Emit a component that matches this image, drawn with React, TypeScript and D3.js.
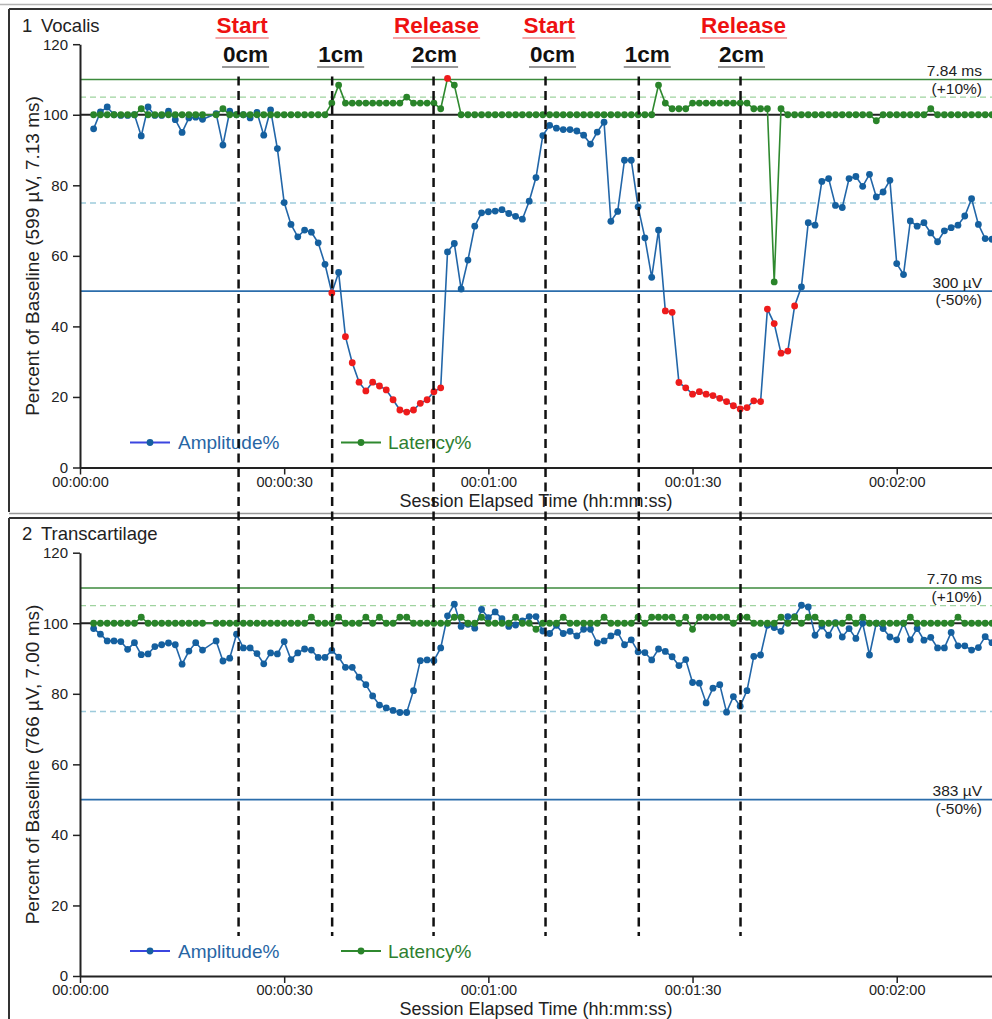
import React, { useEffect, useRef } from 'react';
import * as d3 from 'd3';

const W = 992;
const H = 1019;
const FONT = 'Liberation Sans, Arial, Helvetica, sans-serif';

// one reading per second, the first one at 00:00:02 (t=19 s is a dropped sample)
const firstSecond = 2;

const vocalisAmplitude = [
  96.0, 100.8, 102.2, 100.0, 99.8, 99.8, 100.0, 94.0, 102.2, 99.8,
  99.8, 101.0, 98.6, 95.0, 99.1, 99.3, 98.7, null, 100.3, 91.4,
  101.0, 100.0, 100.0, 99.1, 100.7, 94.2, 101.4, 90.4, 75.1, 68.9,
  65.4, 67.3, 66.7, 63.7, 57.6, 49.5, 55.3, 37.1, 29.7, 24.2,
  21.7, 24.2, 23.1, 22.0, 19.2, 16.3, 15.7, 16.3, 18.2, 19.2,
  21.5, 22.6, 61.1, 63.5, 50.6, 58.8, 68.4, 72.2, 72.5, 72.7,
  73.1, 72.0, 71.2, 70.4, 75.5, 82.2, 94.1, 97.0, 96.2, 95.8,
  95.8, 95.4, 94.2, 91.7, 95.1, 97.9, 69.8, 72.6, 87.1, 87.1,
  73.9, 65.1, 53.9, 67.3, 44.4, 44.0, 24.1, 22.6, 20.8, 21.5,
  20.8, 20.4, 19.6, 18.7, 17.5, 16.6, 17.0, 18.9, 18.7, 44.9,
  40.8, 32.4, 33.0, 45.8, 51.2, 69.4, 68.7, 81.1, 81.9, 74.3,
  73.7, 81.9, 82.5, 79.7, 83.1, 76.7, 78.1, 81.4, 57.8, 54.7,
  69.9, 68.4, 69.4, 66.5, 64.0, 67.1, 68.0, 68.7, 71.3, 76.2,
  68.9, 64.9, 64.7,
];

const vocalisLatency = [
  100, 100, 100, 100, 100, 100, 100, 101.7, 100, 100,
  100, 100, 100, 100, 100, 100, 100, null, 100, 101.7,
  100, 100, 100, 100, 100, 100, 100, 100, 100, 100,
  100, 100, 100, 100, 100, 103.3, 108.4, 103.3, 103.3, 103.3,
  103.3, 103.3, 103.3, 103.3, 103.3, 103.3, 105.0, 103.3, 103.3, 103.3,
  103.3, 101.7, 110.3, 108.4, 100, 100, 100, 100, 100, 100,
  100, 100, 100, 100, 100, 100, 100, 100, 100, 100,
  100, 100, 100, 100, 100, 100, 100, 100, 100, 100,
  100, 100, 100, 108.4, 103.3, 101.7, 101.7, 101.7, 103.3, 103.3,
  103.3, 103.3, 103.3, 103.3, 103.3, 103.3, 103.3, 101.7, 101.7, 101.7,
  52.6, 101.7, 100, 100, 100, 100, 100, 100, 100, 100,
  100, 100, 100, 100, 100, 98.3, 100, 100, 100, 100,
  100, 100, 100, 101.7, 100, 100, 100, 100, 100, 100,
  100, 100, 100,
];

const transAmplitude = [
  98.5, 96.9, 95.0, 95.0, 94.8, 92.6, 94.5, 91.1, 91.3, 93.4,
  93.9, 94.4, 93.9, 88.4, 92.1, 94.5, 92.4, null, 95.0, 89.3,
  90.1, 96.9, 93.0, 93.0, 91.4, 88.5, 91.6, 91.3, 94.8, 89.7,
  91.6, 92.7, 92.4, 90.3, 90.3, 92.3, 90.4, 87.5, 87.5, 84.7,
  82.6, 79.4, 76.8, 76.0, 75.3, 74.7, 74.7, 80.9, 89.4, 89.6,
  89.4, 93.0, 102.1, 105.4, 99.1, 99.7, 98.6, 103.9, 101.6, 103.2,
  101.3, 99.1, 99.5, 100.7, 101.9, 101.9, 97.8, 97.1, 99.4, 97.1,
  97.7, 96.4, 98.3, 98.3, 94.4, 95.0, 96.4, 97.4, 93.9, 95.3,
  91.9, 91.7, 89.6, 92.7, 92.0, 90.5, 88.0, 89.7, 83.2, 83.0,
  77.4, 81.6, 82.6, 74.8, 79.2, 76.5, 80.9, 90.6, 91.0, 99.4,
  98.8, 97.7, 101.9, 101.9, 105.1, 104.6, 96.6, 99.2, 96.6, 100.2,
  96.1, 98.5, 95.7, 100.0, 91.0, 100.0, 98.5, 96.1, 95.3, 100.0,
  95.3, 98.5, 95.2, 96.0, 93.0, 93.0, 97.4, 93.6, 93.6, 92.4,
  93.1, 96.2, 94.5,
];

const transLatency = [
  100, 100, 100, 100, 100, 100, 100, 101.7, 100, 100,
  100, 100, 100, 100, 100, 100, 100, null, 100, 100,
  100, 100, 100, 100, 100, 100, 100, 100, 100, 100,
  100, 100, 101.7, 100, 100, 100, 101.7, 100, 100, 100,
  101.7, 100, 101.7, 100, 100, 101.7, 101.7, 100, 100, 100,
  100, 100, 100, 101.7, 101.7, 100, 100, 101.7, 100, 100,
  100, 100, 101.7, 100, 100, 98.3, 100, 100, 100, 101.7,
  100, 100, 100, 100, 100, 101.7, 100, 100, 100, 100,
  101.7, 100, 101.7, 101.7, 101.7, 101.7, 100, 101.7, 98.3, 101.7,
  101.7, 101.7, 101.7, 101.7, 100, 101.7, 101.7, 100, 100, 100,
  100, 101.7, 100, 101.7, 100, 101.7, 101.7, 100, 100, 100,
  100, 101.7, 100, 101.7, 100, 100, 100, 100, 100, 100,
  101.7, 100, 100, 100, 100, 100, 100, 101.7, 100, 100,
  100, 100, 100,
];

const panelNumbers = ['1', '2'];
const panelNames = ['Vocalis', 'Transcartilage'];
const yAxisTitles = ['Percent of Baseline (599 µV, 7.13 ms)', 'Percent of Baseline (766 µV, 7.00 ms)'];
const latencyLimitLabels = ['7.84 ms', '7.70 ms'];
const amplitudeLimitLabels = ['300 µV', '383 µV'];

const xTicks = [0, 30, 60, 90, 120];
const xTickLabels = ['00:00:00', '00:00:30', '00:01:00', '00:01:30', '00:02:00'];
const yTicks = [0, 20, 40, 60, 80, 100, 120];

// event markers (seconds)
const eventTimes = [23.3, 37.05, 51.95, 68.4, 82.1, 97.05];
const distanceLabels = ['0cm', '1cm', '2cm', '0cm', '1cm', '2cm'];
const phaseLabels = ['Start', '', 'Release', 'Start', '', 'Release'];

const latencyLimit = 110;
const latencyWarn = 105;
const baseline = 100;
const amplitudeWarn = 75;
const amplitudeLimit = 50;

const series = [
  { amp: vocalisAmplitude, lat: vocalisLatency },
  { amp: transAmplitude, lat: transLatency },
];

type Pt = { t: number; v: number };

function toPoints(values: (number | null)[]): Pt[] {
  return values
    .map((v, i) => ({ t: firstSecond + i, v: v as number }))
    .filter(d => d.v != null);
}

export default function App() {
  const svgRef = useRef<SVGSVGElement>(null);

  useEffect(() => {
    const svg = d3.select(svgRef.current);
    svg.selectAll('*').remove();
    svg.style('font-family', FONT);

    const x = d3.scaleLinear().domain([0, 134]).range([80, 992]);
    const panelStep = 508.5;

    // frames
    svg.append('line').attr('x1', 0).attr('x2', W).attr('y1', 4.5).attr('y2', 4.5)
      .attr('stroke', '#b5b5b5').attr('stroke-width', 1.5);
    svg.append('line').attr('x1', 9).attr('x2', W).attr('y1', 9).attr('y2', 9)
      .attr('stroke', '#333').attr('stroke-width', 2);
    svg.append('line').attr('x1', 9).attr('x2', W).attr('y1', 513.5).attr('y2', 513.5)
      .attr('stroke', '#9a9a9a').attr('stroke-width', 1.5);
    svg.append('line').attr('x1', 9).attr('x2', W).attr('y1', 518).attr('y2', 518)
      .attr('stroke', '#333').attr('stroke-width', 2);
    svg.append('line').attr('x1', 9).attr('x2', 9).attr('y1', 9).attr('y2', 512)
      .attr('stroke', '#333').attr('stroke-width', 2);
    svg.append('line').attr('x1', 9).attr('x2', 9).attr('y1', 518).attr('y2', H)
      .attr('stroke', '#333').attr('stroke-width', 2);

    series.forEach((s, i) => {
      const g = svg.append('g').attr('transform', `translate(0, ${i * panelStep})`);
      const y = d3.scaleLinear().domain([0, 120]).range([467.5, 44.2]);

      // title
      g.append('text').attr('x', 22).attr('y', 31.5).attr('font-size', 18.5).attr('fill', '#222')
        .text(panelNumbers[i]);
      g.append('text').attr('x', 41).attr('y', 31.5).attr('font-size', 18.5).attr('fill', '#222')
        .text(panelNames[i]);

      // reference lines
      const ref = (v: number, color: string, width: number, dash?: string) => {
        g.append('line').attr('x1', x(0)).attr('x2', W)
          .attr('y1', y(v)).attr('y2', y(v))
          .attr('stroke', color).attr('stroke-width', width)
          .attr('stroke-dasharray', dash ?? null);
      };
      ref(latencyWarn, '#9fd39f', 1.4, '6,4');
      ref(amplitudeWarn, '#9dcbdc', 1.4, '6,4');
      ref(latencyLimit, '#3c8a3c', 1.7);
      ref(amplitudeLimit, '#2b6dab', 1.7);
      ref(baseline, '#222', 2);

      const rlab = (txt: string, yy: number) =>
        g.append('text').attr('x', 982).attr('y', yy).attr('text-anchor', 'end')
          .attr('font-size', 15.5).attr('fill', '#222').text(txt);
      rlab(latencyLimitLabels[i], y(latencyLimit) - 3.5);
      rlab('(+10%)', y(latencyLimit) + 14.5);
      rlab(amplitudeLimitLabels[i], y(amplitudeLimit) - 3.5);
      rlab('(-50%)', y(amplitudeLimit) + 14);

      // axes
      const yAxis = g.append('g').attr('transform', `translate(${x(0)},0)`)
        .call(d3.axisLeft(y).tickValues(yTicks).tickSize(7).tickSizeOuter(0).tickPadding(5));
      const xAxis = g.append('g').attr('transform', `translate(0,${y(0)})`)
        .call(d3.axisBottom(x).tickValues(xTicks).tickFormat((d, k) => xTickLabels[k])
          .tickSize(7).tickSizeOuter(0).tickPadding(2));
      [yAxis, xAxis].forEach(ax => {
        ax.select('.domain').attr('stroke', '#222').attr('stroke-width', 2);
        ax.selectAll('.tick line').attr('stroke', '#222').attr('stroke-width', 1.5);
        ax.selectAll('.tick text').attr('fill', '#222').attr('font-family', FONT);
      });
      yAxis.selectAll('.tick text').attr('font-size', 15);
      xAxis.selectAll('.tick text').attr('font-size', 14.5);

      g.append('text').attr('x', (x(0) + W) / 2).attr('y', 506.5).attr('text-anchor', 'middle')
        .attr('font-size', 18).attr('fill', '#222').text('Session Elapsed Time (hh:mm:ss)');
      g.append('text').attr('transform', `translate(39, 256) rotate(-90)`)
        .attr('text-anchor', 'middle').attr('font-size', 19).attr('fill', '#222')
        .text(yAxisTitles[i]);

      // data
      const amp = toPoints(s.amp);
      const lat = toPoints(s.lat);
      const line = d3.line<Pt>().x(d => x(d.t)).y(d => y(d.v));

      g.append('path').datum(amp).attr('d', line).attr('fill', 'none')
        .attr('stroke', '#2266a8').attr('stroke-width', 1.6);
      g.selectAll('.amp').data(amp).enter().append('circle')
        .attr('cx', d => x(d.t)).attr('cy', d => y(d.v)).attr('r', 3.4)
        .attr('fill', d => (d.v < amplitudeLimit ? '#ee1b1b' : '#15609f'));

      g.append('path').datum(lat).attr('d', line).attr('fill', 'none')
        .attr('stroke', '#2f892f').attr('stroke-width', 1.6);
      g.selectAll('.lat').data(lat).enter().append('circle')
        .attr('cx', d => x(d.t)).attr('cy', d => y(d.v)).attr('r', 3.4)
        .attr('fill', d => (d.v > latencyLimit ? '#ee1b1b' : '#2a842a'));

      // legend
      const ly = 442.5;
      g.append('line').attr('x1', 130).attr('x2', 170).attr('y1', ly).attr('y2', ly)
        .attr('stroke', '#3b46e0').attr('stroke-width', 2);
      g.append('circle').attr('cx', 150).attr('cy', ly).attr('r', 3.4).attr('fill', '#15609f');
      g.append('text').attr('x', 178).attr('y', ly + 6.5).attr('font-size', 19)
        .attr('fill', '#2766a4').text('Amplitude%');
      g.append('line').attr('x1', 341).attr('x2', 381).attr('y1', ly).attr('y2', ly)
        .attr('stroke', '#2f892f').attr('stroke-width', 2);
      g.append('circle').attr('cx', 361).attr('cy', ly).attr('r', 3.4).attr('fill', '#2a842a');
      g.append('text').attr('x', 388).attr('y', ly + 6.5).attr('font-size', 19)
        .attr('fill', '#2e8030').text('Latency%');
    });

    // event markers across both panels
    svg.selectAll('.evt').data(eventTimes).enter().append('line')
      .attr('x1', d => x(d)).attr('x2', d => x(d)).attr('y1', 76.5).attr('y2', 936)
      .attr('stroke', '#111').attr('stroke-width', 2.5).attr('stroke-dasharray', '9,5.5');

    const distNudge = [7, 8.5, 1];
    const phaseNudge = [3.5, 0, 3];
    eventTimes.forEach((t, k) => {
      const cx = x(t) + distNudge[k % 3];
      const dt = svg.append('text').attr('x', cx).attr('y', 62).attr('text-anchor', 'middle')
        .attr('font-size', 22.5).attr('font-weight', 'bold').attr('fill', '#111')
        .text(distanceLabels[k]);
      const dw = (dt.node() as SVGTextElement).getComputedTextLength();
      svg.append('line').attr('x1', cx - dw / 2 - 1).attr('x2', cx + dw / 2 + 1)
        .attr('y1', 67).attr('y2', 67).attr('stroke', '#999').attr('stroke-width', 2);

      if (phaseLabels[k]) {
        const px = x(t) + phaseNudge[k % 3];
        const pt = svg.append('text').attr('x', px).attr('y', 33).attr('text-anchor', 'middle')
          .attr('font-size', 22.5).attr('font-weight', 'bold').attr('fill', '#ee1111')
          .text(phaseLabels[k]);
        const pw = (pt.node() as SVGTextElement).getComputedTextLength();
        svg.append('line').attr('x1', px - pw / 2 - 1).attr('x2', px + pw / 2 + 1)
          .attr('y1', 38).attr('y2', 38).attr('stroke', '#f08a8a').attr('stroke-width', 1.5);
      }
    });
  }, []);

  return (
    <div style={{ position: 'absolute', left: 0, top: 0 }}>
      <svg ref={svgRef} width={W} height={H} style={{ display: 'block', background: '#fff' }}></svg>
    </div>
  );
}
